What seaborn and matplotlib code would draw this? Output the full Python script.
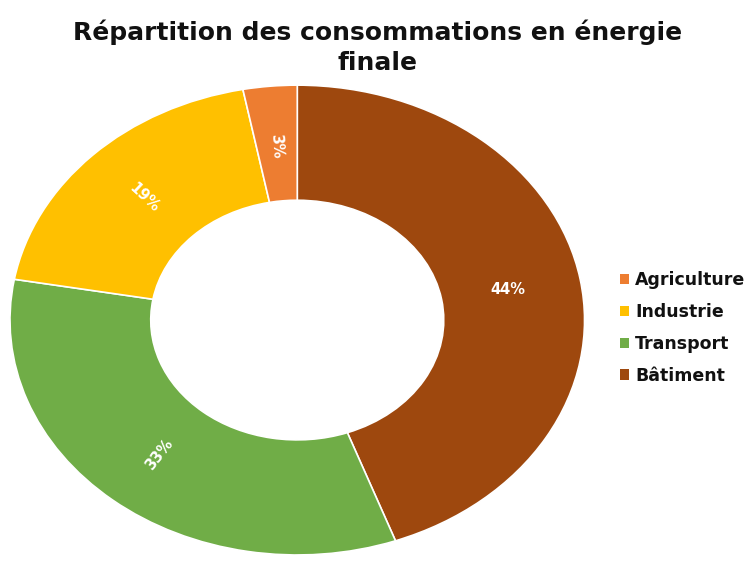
import matplotlib
matplotlib.use("Agg")
import matplotlib.pyplot as plt
import seaborn as sns
from matplotlib.patches import Patch

categories = ["Bâtiment", "Transport", "Industrie", "Agriculture"]
values = [44, 33, 19, 3]
labels = ["44%", "33%", "19%", "3%"]
colors = ["#9E480E", "#70AD47", "#FFC000", "#ED7D31"]
label_rot = [0, 52, -43, -86]

sns.set_theme(style="white")
plt.rcParams['font.family'] = ['DejaVu Sans']

fig = plt.figure(figsize=(7.56, 5.62), dpi=100)
ax = fig.add_axes([0.0132, 0.0125, 0.760, 0.836])

wedges, texts = ax.pie(values, colors=colors, startangle=90, counterclock=False,
                       wedgeprops=dict(width=0.49, edgecolor="white", linewidth=1.2),
                       labels=labels, labeldistance=0.745,
                       textprops=dict(color="white", fontweight="bold", fontsize=10.5,
                                      ha="center", va="center"))
for t, r in zip(texts, label_rot):
    t.set_rotation(r)
    t.set_ha("center")
    t.set_va("center")
ax.set_aspect("auto")
ax.set_xlim(-1, 1)
ax.set_ylim(-1, 1)
ax.axis("off")

fig.suptitle("Répartition des consommations en énergie\nfinale", y=0.965,
             fontsize=18, fontweight="bold", color="#111111", linespacing=1.3)

handles = [Patch(facecolor=c, edgecolor="none") for c in colors][::-1]
leg = fig.legend(handles, categories[::-1], loc="center left",
                 bbox_to_anchor=(0.808, 1 - 328 / 562), frameon=False,
                 prop=dict(weight="bold", size=12.5), handlelength=0.55, handleheight=0.55,
                 handletextpad=0.35, labelspacing=0.8, borderpad=0)
for txt in leg.get_texts():
    txt.set_color("#111111")

fig.savefig("out.png", dpi=100, facecolor="white")
